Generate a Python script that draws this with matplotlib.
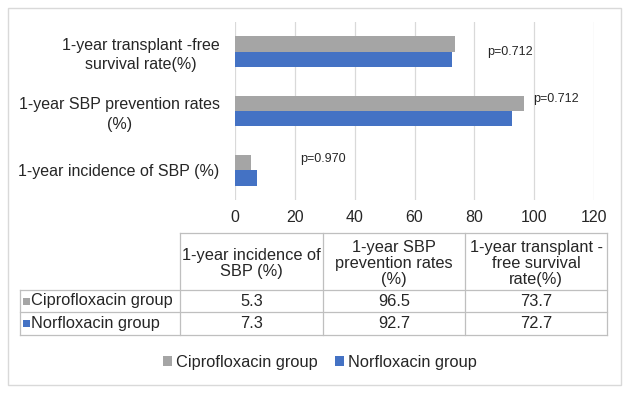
import numpy as np
import matplotlib
matplotlib.use("Agg")
import matplotlib.pyplot as plt
from matplotlib.patches import Rectangle

plt.rcParams['font.family'] = ['Liberation Sans', 'DejaVu Sans']

categories = ["1-year incidence of SBP (%)",
              "1-year SBP prevention rates\n(%)",
              "1-year transplant -free\nsurvival rate(%)"]
table_headers = ["1-year incidence of\nSBP (%)",
                 "1-year SBP\nprevention rates\n(%)",
                 "1-year transplant -\nfree survival\nrate(%)"]
groups = ["Ciprofloxacin group", "Norfloxacin group"]
cipro = [5.3, 96.5, 73.7]
norflox = [7.3, 92.7, 72.7]
p_values = ["p=0.970", "p=0.712", "p=0.712"]
colors = ["#A5A5A5", "#4472C4"]

W, H = 634, 393
fig = plt.figure(figsize=(W / 100, H / 100), dpi=100)
FS = 11.8


def fx(px):
    return px / W


def fy(py):
    return 1 - py / H


# main bar chart
ax = fig.add_axes([fx(235), fy(200), fx(594) - fx(235), fy(22) - fy(200)])
y = np.arange(len(categories))
bh = 0.26
ax.barh(y + bh / 2, cipro, height=bh, color=colors[0], label=groups[0], zorder=3)
ax.barh(y - bh / 2, norflox, height=bh, color=colors[1], label=groups[1], zorder=3)
ax.set_xlim(0, 120)
ax.set_ylim(-0.5, 2.5)
ax.set_xticks(np.arange(0, 121, 20))
ax.set_yticks(y)
ax.set_yticklabels(categories, multialignment='center', linespacing=1.35)
ax.tick_params(axis='y', length=0, pad=11, labelsize=11.5, colors='#262626')
ax.tick_params(axis='x', length=0, pad=7, labelsize=11.5, colors='#262626')
ax.grid(axis='x', color='#d9d9d9', linewidth=0.9, zorder=0)
for s in ax.spines.values():
    s.set_visible(False)

# p-value annotations (positions in data units)
p_pos = [(21.7, 0.19), (99.6, 1.2), (84.2, 2.0)]
for (px_, py_), txt in zip(p_pos, p_values):
    ax.text(px_, py_, txt, fontsize=9, va='center', ha='left', color='#262626')

# overlay in pixel coords for table + border
ov = fig.add_axes([0, 0, 1, 1], zorder=-1)
ov.set_xlim(0, W)
ov.set_ylim(H, 0)
ov.axis('off')
ov.add_patch(Rectangle((8, 8), 613, 377, fill=False, edgecolor='#d9d9d9', linewidth=1))

line_c = '#bfbfbf'
col_x = [20, 180, 323, 465, 607]
row_y = [233, 290, 312, 335]
ov.plot([col_x[1], col_x[-1]], [row_y[0], row_y[0]], color=line_c, lw=0.9)
for ry in row_y[1:]:
    ov.plot([col_x[0], col_x[-1]], [ry, ry], color=line_c, lw=0.9)
ov.plot([col_x[0], col_x[0]], [row_y[1], row_y[-1]], color=line_c, lw=0.9)
for cx in col_x[1:]:
    ov.plot([cx, cx], [row_y[0], row_y[-1]], color=line_c, lw=0.9)

for i, hdr in enumerate(table_headers):
    ov.text((col_x[i + 1] + col_x[i + 2]) / 2, (row_y[0] + row_y[1]) / 2 + 2, hdr,
            ha='center', va='center', fontsize=FS, color='#262626',
            multialignment='center', linespacing=1.05)

for r, (name, vals) in enumerate(zip(groups, [cipro, norflox])):
    cy = (row_y[r + 1] + row_y[r + 2]) / 2
    ov.add_patch(Rectangle((23, cy - 3.5), 7, 7, color=colors[r], lw=0))
    ov.text(31, cy, name, ha='left', va='center', fontsize=FS, color='#262626')
    for i, v in enumerate(vals):
        ov.text((col_x[i + 1] + col_x[i + 2]) / 2, cy, f"{v}", ha='center', va='center',
                fontsize=FS, color='#262626')

handles, labels = ax.get_legend_handles_labels()
fig.legend(handles, labels, loc='center', bbox_to_anchor=(fx(320), fy(362)), ncol=2,
           frameon=False, fontsize=FS, handlelength=0.55, handleheight=0.55,
           handletextpad=0.25, columnspacing=1.0, labelcolor='#262626')

fig.savefig("out.png", dpi=100)
